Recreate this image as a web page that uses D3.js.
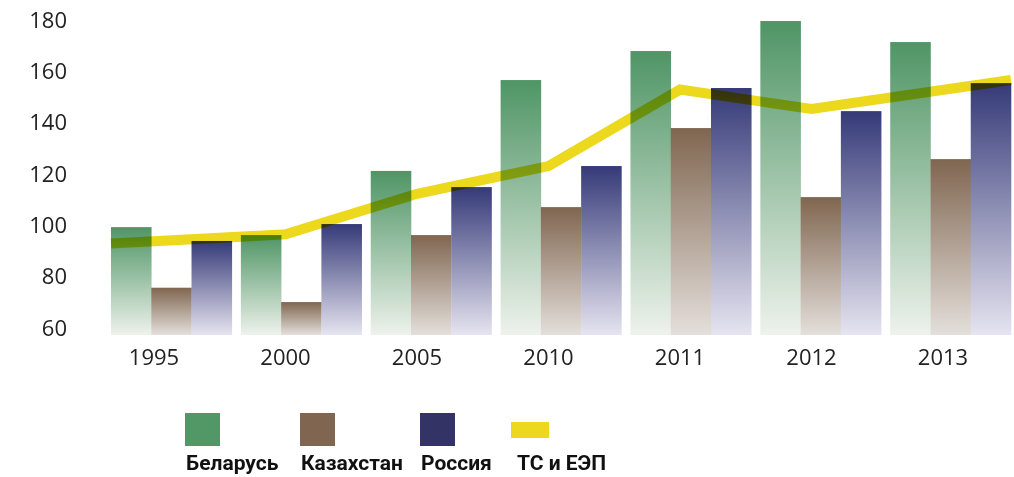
<!DOCTYPE html>
<meta charset="utf-8">
<html>
  <head>
    <title>Chart</title>
    <script src="https://cdn.jsdelivr.net/npm/d3@7"></script>
    <style>
      body { margin: 0; background: #fff; }
      svg { display: block; }
      .tick-label { font-family: "Open Sans", sans-serif; font-size: 22px; fill: #222; }
      .legend-label { font-family: Roboto, sans-serif; font-weight: 700; font-size: 21px; fill: #111; }
      .ts-line { mix-blend-mode: multiply; }
    </style>
  </head>
  <body>
    <div id="chart"></div>
    <script>
      var years = ["1995", "2000", "2005", "2010", "2011", "2012", "2013"];
      var belarus = [99.3, 96.2, 121.2, 156.6, 167.9, 179.6, 171.4];
      var kazakhstan = [75.7, 70.1, 96.2, 107.1, 137.9, 111.0, 125.8];
      var russia = [93.9, 100.5, 114.9, 123.1, 153.5, 144.5, 155.4];
      var tsEep = [92.9, 96.5, 112.3, 123.1, 152.9, 145.3, 156.6];
      var yTicks = [60, 80, 100, 120, 140, 160, 180];
      var seriesNames = ["Беларусь", "Казахстан", "Россия"];
      var lineName = "ТС и ЕЭП";

      var width = 1014, height = 477;
      var baseY = 335;

      var colors = ["#4f9565", "#806650", "#353a78"];
      var paleColors = ["#eef2ec", "#e4dfdb", "#e6e4f0"];
      var legendColors = ["#529766", "#806650", "#333366"];
      var yellow = "#ecd81c";

      var svg = d3.select("#chart").append("svg")
        .attr("width", width)
        .attr("height", height);

      var defs = svg.append("defs");
      colors.forEach(function(c, i) {
        var g = defs.append("linearGradient")
          .attr("id", "grad" + i)
          .attr("x1", 0).attr("y1", 0).attr("x2", 0).attr("y2", 1);
        g.append("stop").attr("offset", "0%").attr("stop-color", c);
        g.append("stop").attr("offset", "100%").attr("stop-color", paleColors[i]);
      });

      var y = d3.scaleLinear().domain([60, 180]).range([328, 20]);

      var x0 = d3.scaleBand().domain(years).range([111, 1011]).paddingInner(0.07).paddingOuter(0);
      var x1 = d3.scaleBand().domain(d3.range(3)).range([0, x0.bandwidth()]);
      var xLab = d3.scalePoint().domain(years).range([154, 943]);

      // y labels
      svg.append("g").selectAll("text")
        .data(yTicks)
        .enter().append("text")
        .attr("class", "tick-label")
        .attr("x", 67)
        .attr("y", function(d) { return y(d); })
        .attr("dy", "0.35em")
        .attr("text-anchor", "end")
        .text(function(d) { return d; });

      // x labels
      svg.append("g").selectAll("text")
        .data(years)
        .enter().append("text")
        .attr("class", "tick-label")
        .attr("x", function(d) { return xLab(d); })
        .attr("y", 357)
        .attr("dy", "0.35em")
        .attr("text-anchor", "middle")
        .text(function(d) { return d; });

      var series = [belarus, kazakhstan, russia];
      var groups = svg.append("g").selectAll("g")
        .data(years)
        .enter().append("g")
        .attr("transform", function(d) { return "translate(" + x0(d) + ",0)"; });

      groups.selectAll("rect")
        .data(function(d, i) { return series.map(function(s, k) { return {k: k, value: s[i]}; }); })
        .enter().append("rect")
        .attr("x", function(d) { return x1(d.k); })
        .attr("width", x1.bandwidth() + 0.3)
        .attr("y", function(d) { return y(d.value); })
        .attr("height", function(d) { return baseY - y(d.value); })
        .attr("fill", function(d) { return "url(#grad" + d.k + ")"; });

      // line: ends stretched to plot edges
      var linePts = tsEep.map(function(v, i) {
        var px = xLab(years[i]);
        if (i == 0) px = x0.range()[0];
        if (i == years.length - 1) px = x0.range()[1];
        return [px, y(v)];
      });
      svg.append("path")
        .attr("class", "ts-line")
        .attr("d", d3.line()(linePts))
        .attr("fill", "none")
        .attr("stroke", yellow)
        .attr("stroke-width", 10)
        .attr("stroke-linejoin", "miter");

      // legend
      var legendX = [185, 300, 420];
      var legend = svg.append("g");
      seriesNames.forEach(function(name, i) {
        legend.append("rect")
          .attr("x", legendX[i]).attr("y", 413)
          .attr("width", 35).attr("height", 33)
          .attr("fill", legendColors[i]);
        legend.append("text")
          .attr("class", "legend-label")
          .attr("x", legendX[i] + 1).attr("y", 470)
          .text(name);
      });
      legend.append("rect")
        .attr("x", 511).attr("y", 422)
        .attr("width", 38).attr("height", 16)
        .attr("fill", yellow);
      legend.append("text")
        .attr("class", "legend-label")
        .attr("x", 517).attr("y", 470)
        .text(lineName);
    </script>
  </body>
</html>
